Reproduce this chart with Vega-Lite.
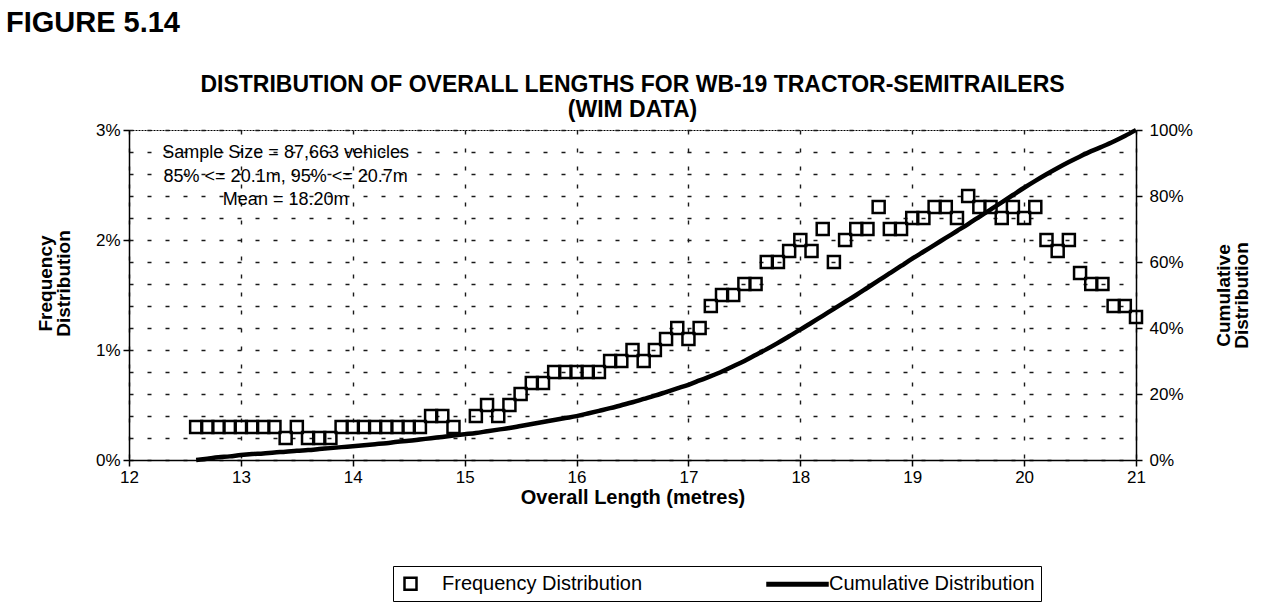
{
  "$schema": "https://vega.github.io/schema/vega-lite/v6.json",
  "background": "white",
  "padding": {"left": 5, "top": 8, "right": 5, "bottom": 5},
  "title": {"text": "FIGURE 5.14", "anchor": "start", "frame": "bounds", "fontSize": 29, "fontWeight": "bold", "dx": -30, "offset": 36, "font": "Liberation Sans", "color": "black"},
  "config": {
    "font": "Liberation Sans",
    "view": {"stroke": "black", "strokeDash": [2, 1], "strokeWidth": 1},
    "axis": {"domainColor": "black", "domainWidth": 1.5, "tickColor": "black", "tickWidth": 1.5, "tickSize": 6, "labelColor": "black", "labelFontSize": 17, "labelFont": "Liberation Sans", "labelFlush": false, "labelOverlap": false, "titleColor": "black", "titleFont": "Liberation Sans", "titleFontWeight": "bold", "gridColor": "#1a1a1a", "gridDash": [4, 14], "gridWidth": 1.4, "gridOpacity": 1}
  },
  "vconcat": [
    {
      "width": 1007,
      "height": 330,
      "title": {"text": ["DISTRIBUTION OF OVERALL LENGTHS FOR WB-19 TRACTOR-SEMITRAILERS", "(WIM DATA)"], "fontSize": 23, "fontWeight": "bold", "lineHeight": 25, "anchor": "middle", "frame": "group", "offset": -1, "color": "black", "font": "Liberation Sans"},
      "data": {"values": [
        {"len":12.6,"freq":0.003,"cum":0.0},
        {"len":12.7,"freq":0.003,"cum":0.004},
        {"len":12.8,"freq":0.003,"cum":0.008},
        {"len":12.9,"freq":0.003,"cum":0.011},
        {"len":13.0,"freq":0.003,"cum":0.015},
        {"len":13.1,"freq":0.003,"cum":0.018},
        {"len":13.2,"freq":0.003,"cum":0.020},
        {"len":13.3,"freq":0.003,"cum":0.023},
        {"len":13.4,"freq":0.002,"cum":0.025},
        {"len":13.5,"freq":0.003,"cum":0.028},
        {"len":13.6,"freq":0.002,"cum":0.030},
        {"len":13.7,"freq":0.002,"cum":0.033},
        {"len":13.8,"freq":0.002,"cum":0.036},
        {"len":13.9,"freq":0.003,"cum":0.039},
        {"len":14.0,"freq":0.003,"cum":0.042},
        {"len":14.1,"freq":0.003,"cum":0.045},
        {"len":14.2,"freq":0.003,"cum":0.048},
        {"len":14.3,"freq":0.003,"cum":0.051},
        {"len":14.4,"freq":0.003,"cum":0.055},
        {"len":14.5,"freq":0.003,"cum":0.058},
        {"len":14.6,"freq":0.003,"cum":0.062},
        {"len":14.7,"freq":0.004,"cum":0.066},
        {"len":14.8,"freq":0.004,"cum":0.070},
        {"len":14.9,"freq":0.003,"cum":0.074},
        {"len":15.0,"freq":null,"cum":0.078},
        {"len":15.1,"freq":0.004,"cum":0.082},
        {"len":15.2,"freq":0.005,"cum":0.087},
        {"len":15.3,"freq":0.004,"cum":0.092},
        {"len":15.4,"freq":0.005,"cum":0.097},
        {"len":15.5,"freq":0.006,"cum":0.103},
        {"len":15.6,"freq":0.007,"cum":0.109},
        {"len":15.7,"freq":0.007,"cum":0.115},
        {"len":15.8,"freq":0.008,"cum":0.121},
        {"len":15.9,"freq":0.008,"cum":0.127},
        {"len":16.0,"freq":0.008,"cum":0.133},
        {"len":16.1,"freq":0.008,"cum":0.141},
        {"len":16.2,"freq":0.008,"cum":0.149},
        {"len":16.3,"freq":0.009,"cum":0.157},
        {"len":16.4,"freq":0.009,"cum":0.166},
        {"len":16.5,"freq":0.010,"cum":0.175},
        {"len":16.6,"freq":0.009,"cum":0.185},
        {"len":16.7,"freq":0.010,"cum":0.195},
        {"len":16.8,"freq":0.011,"cum":0.206},
        {"len":16.9,"freq":0.012,"cum":0.217},
        {"len":17.0,"freq":0.011,"cum":0.228},
        {"len":17.1,"freq":0.012,"cum":0.241},
        {"len":17.2,"freq":0.014,"cum":0.254},
        {"len":17.3,"freq":0.015,"cum":0.268},
        {"len":17.4,"freq":0.015,"cum":0.284},
        {"len":17.5,"freq":0.016,"cum":0.300},
        {"len":17.6,"freq":0.016,"cum":0.318},
        {"len":17.7,"freq":0.018,"cum":0.336},
        {"len":17.8,"freq":0.018,"cum":0.355},
        {"len":17.9,"freq":0.019,"cum":0.375},
        {"len":18.0,"freq":0.020,"cum":0.395},
        {"len":18.1,"freq":0.019,"cum":0.416},
        {"len":18.2,"freq":0.021,"cum":0.437},
        {"len":18.3,"freq":0.018,"cum":0.458},
        {"len":18.4,"freq":0.020,"cum":0.479},
        {"len":18.5,"freq":0.021,"cum":0.500},
        {"len":18.6,"freq":0.021,"cum":0.522},
        {"len":18.7,"freq":0.023,"cum":0.544},
        {"len":18.8,"freq":0.021,"cum":0.566},
        {"len":18.9,"freq":0.021,"cum":0.588},
        {"len":19.0,"freq":0.022,"cum":0.610},
        {"len":19.1,"freq":0.022,"cum":0.631},
        {"len":19.2,"freq":0.023,"cum":0.652},
        {"len":19.3,"freq":0.023,"cum":0.673},
        {"len":19.4,"freq":0.022,"cum":0.694},
        {"len":19.5,"freq":0.024,"cum":0.715},
        {"len":19.6,"freq":0.023,"cum":0.737},
        {"len":19.7,"freq":0.023,"cum":0.759},
        {"len":19.8,"freq":0.022,"cum":0.781},
        {"len":19.9,"freq":0.023,"cum":0.803},
        {"len":20.0,"freq":0.022,"cum":0.825},
        {"len":20.1,"freq":0.023,"cum":0.846},
        {"len":20.2,"freq":0.020,"cum":0.866},
        {"len":20.3,"freq":0.019,"cum":0.885},
        {"len":20.4,"freq":0.020,"cum":0.903},
        {"len":20.5,"freq":0.017,"cum":0.920},
        {"len":20.6,"freq":0.016,"cum":0.936},
        {"len":20.7,"freq":0.016,"cum":0.950},
        {"len":20.8,"freq":0.014,"cum":0.965},
        {"len":20.9,"freq":0.014,"cum":0.982},
        {"len":21.0,"freq":0.013,"cum":1.0}
      ]},
      "layer": [
        {
          "data": {"values": [{}]},
          "mark": {"type": "text", "text": ["Sample Size = 87,663 vehicles", "85% <= 20.1m, 95% <= 20.7m", "Mean = 18.20m"], "align": "center", "baseline": "top", "fontSize": 18, "lineHeight": 23.5, "fill": "black", "font": "Liberation Sans"},
          "encoding": {
            "x": {"datum": 13.4, "type": "quantitative"},
            "y": {"datum": 0.0287, "type": "quantitative", "scale": {"domain": [0, 0.03], "nice": false},
              "axis": {"orient": "left", "values": [0, 0.002, 0.004, 0.006, 0.008, 0.01, 0.012, 0.014, 0.016, 0.018, 0.02, 0.022, 0.024, 0.026, 0.028, 0.03],
                "grid": true, "labels": false, "ticks": false, "domain": false, "title": null}}
          }
        },
        {
          "mark": {"type": "point", "filled": false, "size": 400, "strokeWidth": 2.5, "color": "black", "opacity": 1},
          "encoding": {
            "x": {"field": "len", "type": "quantitative", "scale": {"domain": [12, 21], "nice": false, "zero": false},
              "axis": {"values": [12, 13, 14, 15, 16, 17, 18, 19, 20, 21], "format": "d", "grid": true, "title": "Overall Length (metres)", "titleFontSize": 20, "titlePadding": 2, "labelPadding": 3, "labelOverlap": false}},
            "y": {"field": "freq", "type": "quantitative", "scale": {"domain": [0, 0.03], "nice": false},
              "axis": {"orient": "left", "values": [0, 0.01, 0.02, 0.03], "format": ".0%", "grid": false, "labelOverlap": false,
                "title": ["Frequency", "Distribution"], "titleFontSize": 19, "titleLineHeight": 18, "titlePadding": 22, "titleAngle": 270, "titleBaseline": "bottom", "titleY": 153, "labelPadding": 3}},
            "shape": {"datum": "Frequency Distribution", "type": "nominal",
              "scale": {"domain": ["Frequency Distribution", "Cumulative Distribution"], "range": ["M-0.6,-0.6H0.6V0.6H-0.6Z", "M-3,-0.12H3V0.12H-3Z"]},
              "legend": {"title": null,
                "orient": "none", "legendX": 264, "legendY": 436, "direction": "horizontal",
                "strokeColor": "black", "padding": 6, "labelFontSize": 20, "labelColor": "black", "labelFont": "Liberation Sans",
                "labelOffset": 20, "symbolSize": 400, "symbolStrokeWidth": 2.5, "symbolStrokeColor": "black", "symbolFillColor": "transparent",
                "columnPadding": 119, "labelLimit": 600}}
          }
        },
        {
          "mark": {"type": "line", "interpolate": "monotone", "strokeWidth": 4.5, "color": "black"},
          "encoding": {
            "x": {"field": "len", "type": "quantitative"},
            "y": {"field": "cum", "type": "quantitative", "scale": {"domain": [0, 1], "nice": false},
              "axis": {"orient": "right", "values": [0, 0.2, 0.4, 0.6, 0.8, 1], "format": ".0%", "grid": false,
                "title": ["Cumulative", "Distribution"], "titleFontSize": 19, "titleLineHeight": 18, "titlePadding": 4, "titleAngle": 270, "titleBaseline": "top", "labelPadding": 7}}
          }
        }
      ],
      "resolve": {"scale": {"y": "independent"}}
    }
  ]
}
